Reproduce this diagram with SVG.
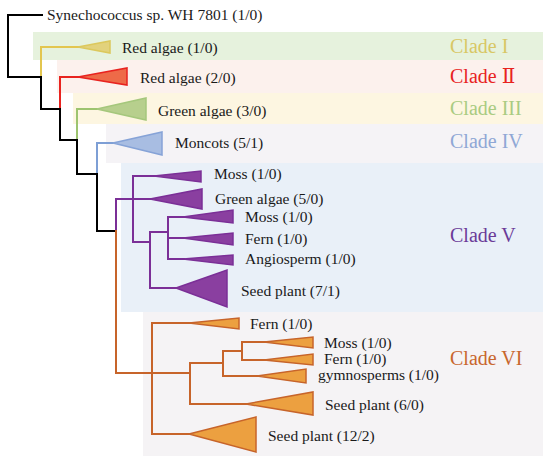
<svg xmlns="http://www.w3.org/2000/svg" width="550" height="462" viewBox="0 0 550 462">
<style>
text{font-family:"Liberation Serif","Times New Roman",serif;font-size:15.5px;fill:#1a1a1a}
.cl{font-size:20px}
.e{fill:none;stroke-width:2;stroke-linejoin:miter;stroke-linecap:square}
.k{stroke:#000}
.y{stroke:#e3c64f}
.r{stroke:#e8231f}
.g{stroke:#9dc46f}
.b{stroke:#7e9fd5}
.p{stroke:#7b2f97}
.o{stroke:#c7642a}
.tri{stroke-width:1.5;stroke-linejoin:miter}
.ty{fill:#e2d27c;stroke:#dcc85c}
.tr{fill:#ee6a48;stroke:#e8231f}
.tg{fill:#b7cf8d;stroke:#a5c77c}
.tb{fill:#a8bde2;stroke:#86a3d7}
.tp{fill:#8a3fa0;stroke:#7b2f97}
.to{fill:#eca040;stroke:#c7642a}
</style>
<g id="bands">
<rect x="33" y="32" width="510" height="28" fill="#e6f2dd"/>
<rect x="57" y="60" width="486" height="33" fill="#fcf1ed"/>
<rect x="73" y="93" width="470" height="31" fill="#fdf6e1"/>
<rect x="106" y="124" width="437" height="39" fill="#f5f3f6"/>
<rect x="121" y="163" width="422" height="149" fill="#e9f0f8"/>
<rect x="143" y="312" width="400" height="144" fill="#f5f3f5"/>
</g>
<g id="connectors">
<path class="e k" d="M42 15H8V77H41"/>
<path class="e y" d="M41 77V47H80"/>
<path class="e k" d="M41 77V109H60"/>
<path class="e r" d="M60 109V77H80"/>
<path class="e k" d="M60 109V140H77"/>
<path class="e g" d="M77 140V109H98"/>
<path class="e k" d="M77 140V174H97"/>
<path class="e b" d="M97 174V143H114"/>
<path class="e k" d="M97 174V231H116"/>
<path class="e p" d="M116 231V199H150"/>
<path class="e p" d="M155 176H133V242H150M150 232V288H177M150 232H168M168 217V259M168 217H184M168 238H184M168 259H184"/>
<path class="e o" d="M116 231V373H190"/>
<path class="e o" d="M190 323H152V434H190M190 363V404H247M190 363H223M223 351V376H258M223 351H242M242 342V360M242 342H265M242 360H265"/>
</g>
<g id="clade1">
<polygon class="tri ty" points="78,47 110,41 110,53"/>
<text x="122" y="53">Red algae (1/0)</text>
<text class="cl" x="450" y="53" style="fill:#d8c765">Clade I</text>
</g>
<g id="clade2">
<polygon class="tri tr" points="78,77 127,68 127,85"/>
<text x="140" y="83">Red algae (2/0)</text>
<text class="cl" x="450" y="83" style="fill:#e8231f;font-family:'Liberation Serif','DejaVu Serif',serif">Clade Ⅱ</text>
</g>
<g id="clade3">
<polygon class="tri tg" points="97,109 146,98 146,120"/>
<text x="158" y="116">Green algae (3/0)</text>
<text class="cl" x="450" y="115" style="fill:#a9cb82">Clade III</text>
</g>
<g id="clade4">
<polygon class="tri tb" points="113,143 162,132 162,155"/>
<text x="175" y="148">Moncots (5/1)</text>
<text class="cl" x="450" y="148" style="fill:#8fa7d5">Clade IV</text>
</g>
<g id="root">
<text x="47" y="20">Synechococcus sp. WH 7801 (1/0)</text>
</g>
<g id="clade5">
<polygon class="tri tp" points="154,176 201,171 201,182"/>
<text x="214" y="179">Moss (1/0)</text>
<polygon class="tri tp" points="150,199 202,189 202,209"/>
<text x="215" y="204">Green algae (5/0)</text>
<polygon class="tri tp" points="183,217 233,210 233,223"/>
<text x="245" y="222">Moss (1/0)</text>
<polygon class="tri tp" points="183,238 233,233 233,245"/>
<text x="245" y="244">Fern (1/0)</text>
<polygon class="tri tp" points="183,259 233,255 233,265"/>
<text x="245" y="264">Angiosperm (1/0)</text>
<polygon class="tri tp" points="176,288 227,270 227,307"/>
<text x="241" y="296">Seed plant (7/1)</text>
<text class="cl" x="450" y="242" style="fill:#6b3b98">Clade V</text>
</g>
<g id="clade6">
<polygon class="tri to" points="189,323 239,318 239,329"/>
<text x="250" y="329">Fern (1/0)</text>
<polygon class="tri to" points="264,342 313,337 313,348"/>
<text x="324" y="348">Moss (1/0)</text>
<polygon class="tri to" points="264,360 313,354 313,365"/>
<text x="324" y="364">Fern (1/0)</text>
<polygon class="tri to" points="257,376 306,369 306,383"/>
<text x="318" y="380">gymnosperms (1/0)</text>
<polygon class="tri to" points="246,404 313,392 313,415"/>
<text x="325" y="410">Seed plant (6/0)</text>
<polygon class="tri to" points="189,434 256,417 256,452"/>
<text x="268" y="441">Seed plant (12/2)</text>
<text class="cl" x="450" y="365" style="fill:#c8662e">Clade VI</text>
</g>
</svg>
